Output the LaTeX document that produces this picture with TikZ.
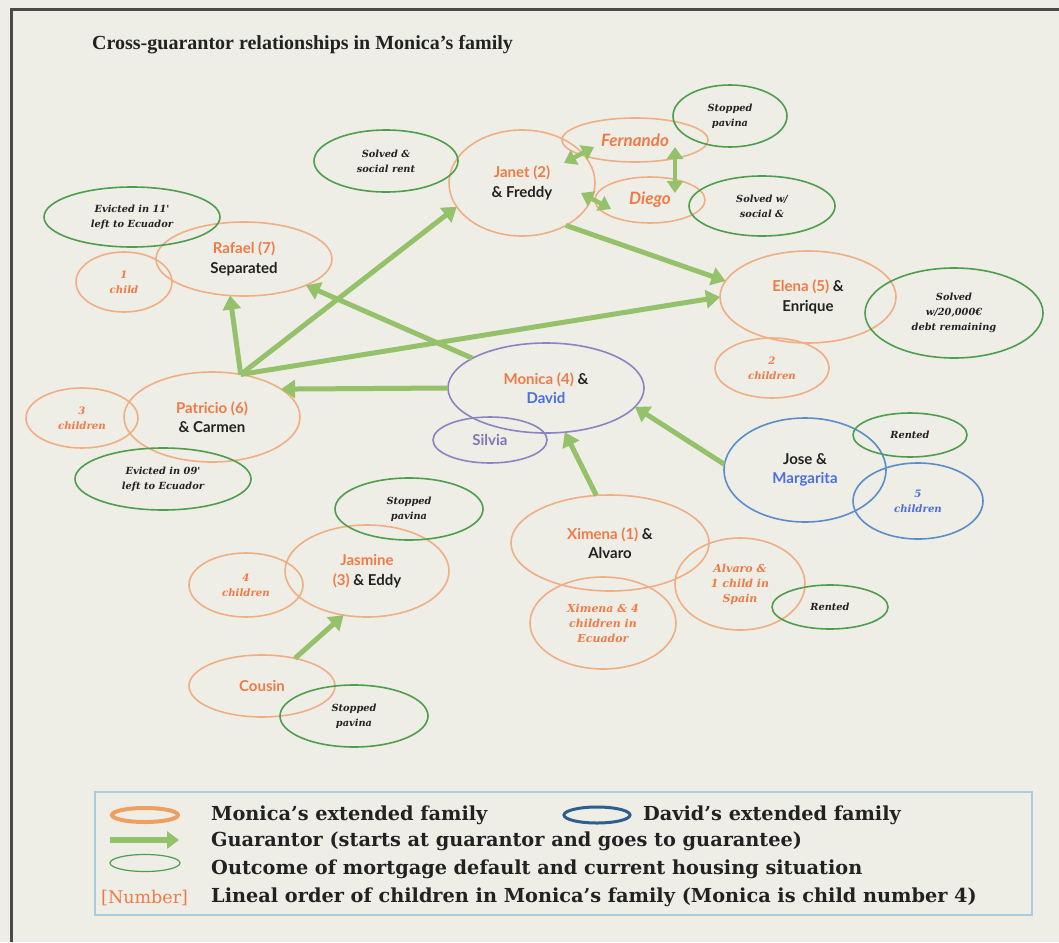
\documentclass[tikz,border=0pt]{standalone}
\usepackage{fontspec}
\setmainfont{Liberation Serif}
\newfontfamily\namefont{Lato}
\newfontfamily\legfont{DejaVu Serif}
\newfontfamily\smallfont{DejaVu Serif}
\usetikzlibrary{shapes.geometric,arrows.meta,calc}
\definecolor{bg}{HTML}{EEEEE6}
\definecolor{frame}{HTML}{4A4A48}
\definecolor{orline}{HTML}{F0AE84}
\definecolor{ortext}{HTML}{EE7B47}
\definecolor{grline}{HTML}{4E9E4E}
\definecolor{puline}{HTML}{8B83C2}
\definecolor{putext}{HTML}{8474B6}
\definecolor{blline}{HTML}{5B8DC9}
\definecolor{bltext}{HTML}{4B6EE0}
\definecolor{arrowc}{HTML}{96C16B}
\definecolor{legline}{HTML}{A9CED9}
\definecolor{legor}{HTML}{EDA060}
\definecolor{legbl}{HTML}{2E5E8E}
\definecolor{txt}{HTML}{222222}
\begin{document}
\begin{tikzpicture}[x=1pt,y=-1pt,
  oval/.style={ellipse, inner sep=0pt, outer sep=0pt, align=center, line width=1.6pt, text=txt},
  fam/.style={oval, draw=orline},
  dav/.style={oval, draw=blline},
  mon/.style={oval, draw=puline},
  res/.style={oval, draw=grline},
  namef/.style={font=\namefont\bfseries\fontsize{15}{19.5}\selectfont},
  smallf/.style={font=\smallfont\bfseries\itshape\fontsize{9.8}{15}\selectfont},
  kidf/.style={font=\smallfont\bfseries\itshape\fontsize{10.2}{15}\selectfont, text=ortext},
  ital/.style={font=\namefont\bfseries\itshape\fontsize{17}{19}\selectfont, text=ortext},
  garrow/.style={draw=arrowc, line width=5pt, -{Triangle[width=18pt,length=14pt]}},
  dblarrow/.style={draw=arrowc, line width=4.5pt, {Triangle[width=16pt,length=12pt]}-{Triangle[width=16pt,length=12pt]}},
  legtext/.style={anchor=west, inner sep=0pt, text=txt, font=\legfont\bfseries\fontsize{19.3}{24}\selectfont}
]
\useasboundingbox (0,0) rectangle (1059,942);
\fill[bg] (0,0) rectangle (1059,942);
\draw[frame, line width=2.6pt] (11.5,942) -- (11.5,9.5) -- (1059,9.5);

\node[anchor=west, inner sep=0pt, text=txt, font=\bfseries\fontsize{20}{24}\selectfont] (title) at (92,45) {Cross-guarantor relationships in Monica’s family};

% Monica's family (orange)
\node[fam, namef, minimum width=146, minimum height=106] (jan) at (522,183) {{\color{ortext}Janet (2)}\\\& Freddy};
\node[fam, ital, minimum width=146, minimum height=44] (fer) at (635,140) {Fernando};
\node[fam, ital, minimum width=110, minimum height=46] (die) at (650,200) {Diego};
\node[fam, namef, minimum width=176, minimum height=92] (ele) at (808,297) {{\color{ortext}Elena (5)} \&\\Enrique};
\node[fam, kidf, minimum width=114, minimum height=60] (ch2) at (772,368) {2\\children};
\node[fam, namef, minimum width=176, minimum height=74] (raf) at (244,259) {{\color{ortext}Rafael (7)}\\Separated};
\node[fam, kidf, minimum width=96, minimum height=60] (ch1) at (124,282) {1\\child};
\node[fam, namef, minimum width=176, minimum height=90] (pat) at (212,417) {{\color{ortext}Patricio (6)}\\\& Carmen};
\node[fam, kidf, minimum width=112, minimum height=60] (ch3) at (82,418) {3\\children};
\node[fam, namef, minimum width=164, minimum height=92] (jas) at (367,571) {{\color{ortext}Jasmine}\\{\color{ortext}(3)} \& Eddy};
\node[fam, kidf, minimum width=114, minimum height=64] (ch4) at (246,585) {4\\children};
\node[fam, namef, text=ortext, minimum width=146, minimum height=62] (cou) at (262,686) {Cousin};
\node[fam, namef, minimum width=198, minimum height=96] (xim) at (610,543) {{\color{ortext}Ximena (1)} \&\\Alvaro};
\node[fam, kidf, font=\smallfont\bfseries\itshape\fontsize{11}{15}\selectfont, minimum width=146, minimum height=92] (xec) at (603,623) {Ximena \& 4\\children in\\Ecuador};
\node[fam, kidf, font=\smallfont\bfseries\itshape\fontsize{11}{15}\selectfont, minimum width=130, minimum height=92] (asp) at (740,584) {Alvaro \&\\1 child in\\Spain};

% Monica & David, Silvia
\node[mon, namef, minimum width=196, minimum height=90] (mon) at (546,388) {{\color{ortext}Monica (4)} \&\\{\color{bltext}David}};
\node[mon, namef, text=putext, minimum width=114, minimum height=46] (sil) at (490,440) {Silvia};

% David's family (blue)
\node[dav, namef, minimum width=162, minimum height=104] (jos) at (805,470) {Jose \&\\{\color{bltext}Margarita}};
\node[dav, kidf, text=bltext, minimum width=130, minimum height=76] (ch5) at (918,501) {5\\children};

% outcomes (green)
\node[res, smallf, minimum width=144, minimum height=62] (g1) at (386,161) {Solved \&\\social rent};
\node[res, smallf, minimum width=114, minimum height=62] (g2) at (730,116) {Stopped\\pavina};
\node[res, smallf, minimum width=146, minimum height=60] (g3) at (762,206) {Solved w/\\social \&};
\node[res, smallf, minimum width=178, minimum height=90] (g4) at (954,313) {Solved\\w/20,000€\\debt remaining};
\node[res, smallf, minimum width=176, minimum height=60] (g5) at (132,217) {Evicted in 11'\\left to Ecuador};
\node[res, smallf, minimum width=176, minimum height=62] (g6) at (163,479) {Evicted in 09'\\left to Ecuador};
\node[res, smallf, minimum width=114, minimum height=44] (g7) at (910,435) {Rented};
\node[res, smallf, minimum width=148, minimum height=62] (g8) at (409,509) {Stopped\\pavina};
\node[res, smallf, minimum width=116, minimum height=44] (g9) at (830,607) {Rented};
\node[res, smallf, minimum width=148, minimum height=62] (g10) at (354,716) {Stopped\\pavina};

% guarantor arrows
\draw[garrow] (mon.west) -- (pat.22);
\draw[garrow] (mon.158) -- (raf.337);
\draw[garrow] (pat.56) -- (raf.249);
\draw[garrow] (pat.56) -- (jan.200);
\draw[garrow] (pat.56) -- (ele.west);
\draw[garrow] (jan.316) -- (ele.169);
\draw[garrow] (xim.106) -- (mon.293);
\draw[garrow] (jos.176) -- (mon.348);
\draw[garrow] (cou.40) -- (jas.242);

% double arrows between siblings' nodes
\coordinate (jf1) at (564,163);
\coordinate (jf2) at (594,147);
\coordinate (jd1) at (581,193);
\coordinate (jd2) at (611,209);
\coordinate (fd1) at (675,147);
\coordinate (fd2) at (675,193);
\draw[dblarrow] (jf1) -- (jf2);
\draw[dblarrow] (jd1) -- (jd2);
\draw[dblarrow] (fd1) -- (fd2);

% legend
\node[draw=legline, line width=1.5pt, inner sep=0pt, minimum width=937, minimum height=123] (leg) at (563.5,853.5) {};
\node[ellipse, draw=legor, line width=4pt, inner sep=0pt, minimum width=66, minimum height=14] (lg1) at (145,815) {};
\node[legtext] (lt1) at (211,815) {Monica’s extended family};
\node[ellipse, draw=legbl, line width=3pt, inner sep=0pt, minimum width=66, minimum height=16] (lg2) at (597,815) {};
\node[legtext] (lt2) at (643,815) {David’s extended family};
\coordinate (la1) at (110,840);
\coordinate (la2) at (179,840);
\draw[draw=arrowc, line width=6pt, -{Triangle[width=17pt,length=12pt]}] (la1) -- (la2);
\node[legtext] (lt3) at (211,841) {Guarantor (starts at guarantor and goes to guarantee)};
\node[ellipse, draw=grline, line width=1.2pt, inner sep=0pt, minimum width=70, minimum height=17] (lg3) at (145,863) {};
\node[legtext] (lt4) at (211,869) {Outcome of mortgage default and current housing situation};
\node[legtext, text=ortext, font=\legfont\fontsize{17.5}{22}\selectfont] (lt5) at (101,898) {[Number]};
\node[legtext] (lt6) at (211,897) {Lineal order of children in Monica’s family (Monica is child number 4)};
\end{tikzpicture}
\end{document}
